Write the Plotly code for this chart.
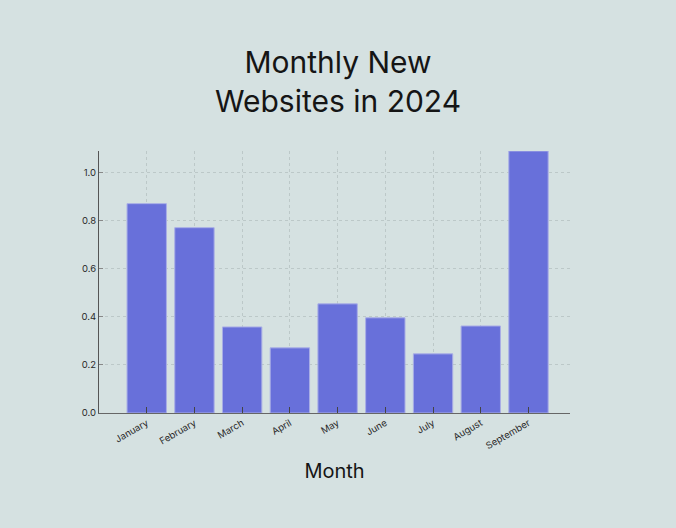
import plotly.graph_objects as go

# values
months = ["January", "February", "March", "April", "May", "June",
          "July", "August", "September"]
new_sites = [0.871, 0.771, 0.358, 0.271, 0.454, 0.396, 0.246, 0.362, 1.09]
y_ticks = [0.0, 0.2, 0.4, 0.6, 0.8, 1.0]

bg = "#D5E1E1"
grid = "#BCC8C8"

fig = go.Figure(go.Bar(
    x=months,
    y=new_sites,
    marker=dict(color="#6870DA", line=dict(color="#A9AEE6", width=1)),
))

fig.update_layout(
    width=676,
    height=528,
    paper_bgcolor=bg,
    plot_bgcolor=bg,
    margin=dict(l=99, r=106, t=151, b=115),
    bargap=0.175,
    showlegend=False,
    font=dict(family="Inter, Helvetica, Arial, sans-serif", color="#222222"),
    title=dict(
        text="Monthly New<br>Websites in 2024",
        x=0.5,
        xanchor="center",
        y=0.862,
        yanchor="top",
        font=dict(size=30, color="#151515"),
    ),
)

fig.update_xaxes(
    range=[-1.0, 8.87],
    showline=True,
    linecolor="#666666",
    linewidth=1,
    ticks="inside",
    ticklen=6,
    tickcolor="#444444",
    tickangle=-30,
    tickfont=dict(size=9.5, color="#2a2a2a"),
    showgrid=True,
    gridcolor=grid,
    griddash="3px,3px",
    gridwidth=1,
    title=dict(text="Month", font=dict(size=20, color="#151515"), standoff=13),
)

fig.update_yaxes(
    range=[0, 1.09],
    tickvals=y_ticks,
    tickformat=".1f",
    showline=True,
    linecolor="#555555",
    linewidth=1,
    ticks="inside",
    ticklen=4,
    tickcolor="#888888",
    tickfont=dict(size=9.5, color="#2a2a2a"),
    showgrid=True,
    gridcolor=grid,
    griddash="3px,3px",
    gridwidth=1,
    zeroline=False,
)

# drop the page's default body margin so the figure sits at the window corner
fig.write_html("out.html", config={"displayModeBar": False},
               post_script="document.body.style.margin='0';")
